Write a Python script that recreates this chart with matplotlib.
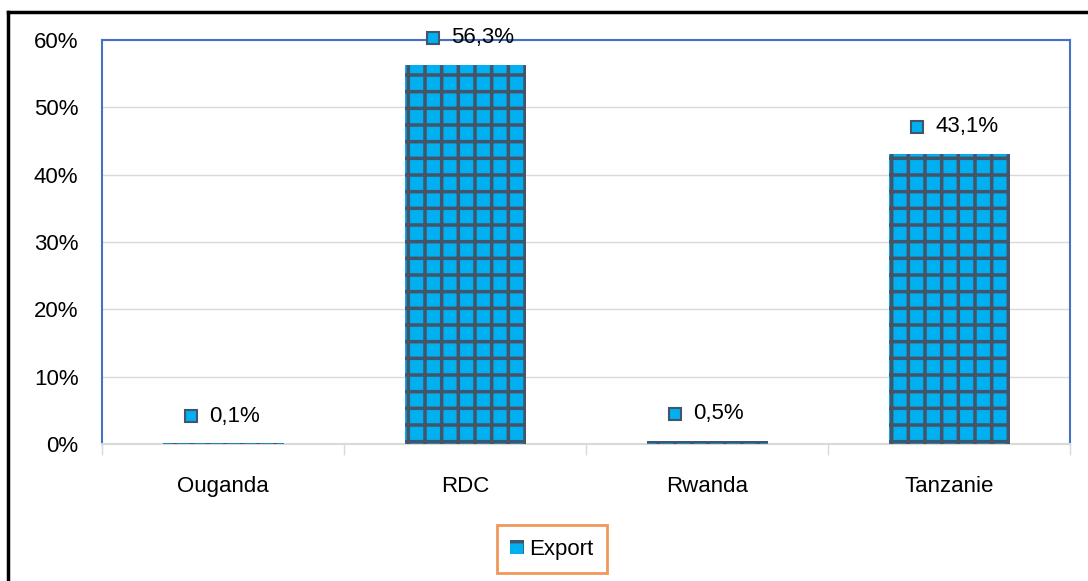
import matplotlib.pyplot as plt
import matplotlib.transforms as mtransforms
from matplotlib.patches import Patch
from matplotlib.lines import Line2D
from matplotlib.ticker import PercentFormatter, FixedLocator

# data
countries = ['Ouganda', 'RDC', 'Rwanda', 'Tanzanie']
export = [0.1, 56.3, 0.5, 43.1]
labels = ['0,1%', '56,3%', '0,5%', '43,1%']

blue = '#00B0F0'
dark = '#44546A'

plt.rcParams['font.family'] = ['Liberation Sans', 'DejaVu Sans']
plt.rcParams['hatch.linewidth'] = 2.5

fig = plt.figure(figsize=(10.88, 5.81), dpi=100)
ax = fig.add_axes([102 / 1088, 1 - 444 / 581, 968 / 1088, 404 / 581])

x = range(len(countries))
ax.bar(x, export, width=0.5, color=blue, edgecolor=dark, hatch='+', linewidth=0, zorder=3)

ax.set_xlim(-0.5, 3.5)
ax.set_ylim(0, 60)
ax.yaxis.set_major_formatter(PercentFormatter(decimals=0))
ax.set_yticks(range(0, 61, 10))
ax.grid(axis='y', color='#D9D9D9', linewidth=1, zorder=0)

fs = 16
ax.set_xticks(list(x))
ax.set_xticklabels(countries, fontsize=fs)
ax.xaxis.set_minor_locator(FixedLocator([-0.5, 0.5, 1.5, 2.5, 3.5]))
ax.tick_params(axis='x', which='major', length=0, pad=23)
ax.tick_params(axis='x', which='minor', length=8, color='#D9D9D9', width=1)
ax.tick_params(axis='y', length=0, pad=17, labelsize=fs)

for side in ['top', 'left', 'right']:
    ax.spines[side].set_color('#4472C4')
    ax.spines[side].set_linewidth(1.5)
ax.spines['bottom'].set_color('#D9D9D9')
ax.spines['bottom'].set_linewidth(1.5)

# data labels with a small legend key
for i, (v, lab) in enumerate(zip(export, labels)):
    tr = mtransforms.offset_copy(ax.transData, fig=fig, x=-32, y=27, units='dots')
    ax.plot([i], [v], marker='s', markersize=9, markerfacecolor=blue,
            markeredgecolor=dark, markeredgewidth=1.5, transform=tr, clip_on=False, zorder=4)
    tr2 = mtransforms.offset_copy(ax.transData, fig=fig, x=-14, y=27, units='dots')
    ax.text(i, v, lab, transform=tr2, fontsize=fs, va='center', ha='left', zorder=4)

handle = Patch(facecolor=blue, edgecolor=dark, hatch='+', linewidth=0)
leg = fig.legend([handle], ['Export'], loc='center', bbox_to_anchor=(552 / 1088, 1 - 549 / 581),
                 fontsize=fs, frameon=True, fancybox=False, handlelength=0.6, handleheight=0.6,
                 handletextpad=0.25, borderpad=0.6)
leg.get_frame().set_edgecolor('#ED7D31')
leg.get_frame().set_linewidth(2)

# outer frame (left and top)
fig.add_artist(Line2D([8 / 1088, 8 / 1088], [0, 1 - 12 / 581], color='black', linewidth=2.5,
                      transform=fig.transFigure))
fig.add_artist(Line2D([8 / 1088, 1], [1 - 12 / 581, 1 - 12 / 581], color='black', linewidth=2.5,
                      transform=fig.transFigure))

fig.savefig('out.png', dpi=100)
